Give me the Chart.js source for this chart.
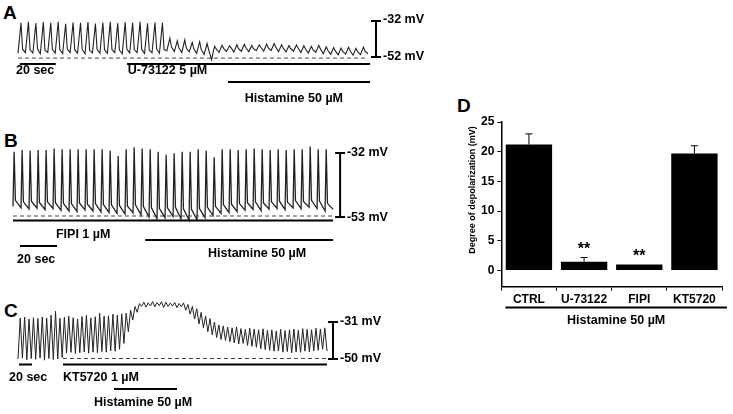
<!DOCTYPE html>
<html>
<head>
<meta charset="utf-8">
<script src="https://cdn.jsdelivr.net/npm/chart.js@4.4.1/dist/chart.umd.min.js"></script>
<style>
  body { margin: 0; background: #fff; width: 733px; height: 414px; position: relative; overflow: hidden; font-family: 'Liberation Sans', Arial, sans-serif; }
  canvas { position: absolute; }
  .letter { position: absolute; font-weight: bold; font-size: 19px; line-height: 19px; color: #000; }
</style>
</head>
<body>
<div class="letter" style="left:3px;top:3px">A</div>
<div class="letter" style="left:4px;top:131px">B</div>
<div class="letter" style="left:4px;top:301px">C</div>
<div class="letter" style="left:457px;top:96px">D</div>

<canvas id="traceA" width="460" height="112" style="left:0;top:0"></canvas>
<canvas id="traceB" width="460" height="165" style="left:0;top:115px"></canvas>
<canvas id="traceC" width="460" height="129" style="left:0;top:285px"></canvas>
<canvas id="barsD" width="293" height="250" style="left:440px;top:90px"></canvas>

<script>
// ---- data (mV), one value per oscillation cycle ----
// A: control spikes, then U-73122 + histamine
const aPeak = [-33, -32.5, -33.2, -32.6, -33, -32.4, -33.5, -32.8, -33, -32.6,
  -33.4, -32.8, -32.5, -33.2, -32.7, -33, -32.5, -33.3, -32.8, -33,
  -41.5, -43, -42.5, -44, -43.5, -44.5,
  -46, -45.5, -45.8, -45.2, -45, -45.6, -45.3, -44.8, -44.5, -45.2,
  -45.6, -45.3, -45.8, -46, -45.5, -46.4, -46.8, -47, -46.6, -47.2, -46.5];
const aKnee = [-47.8, -48, -47.5, -48.2, -47.9, -48, -47.6, -48.1, -47.8, -48.3,
  -47.7, -48, -47.9, -48.2, -47.6, -48, -47.8, -48.1, -47.5, -47.9,
  -46.5, -47, -47.2, -47.5, -48, -48.2,
  -47.5, -47.2, -46.8, -47.4, -46.9, -47.3, -46.6, -46.9, -46.4, -47.1,
  -47.4, -47, -47.6, -47.9, -47.5, -48.3, -48.6, -48.9, -48.5, -49.1, -48.7];
const aBase = [-50, -49.6, -49.8, -50.2, -49.5, -49.8, -50.1, -49.6, -49.9, -50.2,
  -49.7, -49.9, -50, -49.6, -50.2, -49.8, -49.5, -50, -49.7, -49.9,
  -48.5, -49, -49.5, -49.2, -50, -50.5,
  -53.5, -49.5, -49, -49.3, -48.8, -49, -48.5, -48.7, -48.4, -49,
  -49.2, -48.8, -49.5, -49.8, -49.4, -50.2, -50.5, -50.8, -50.4, -51, -50.6, -50.2];
const aSeconds = 194.4;

// B: FIPI, then FIPI + histamine
const bPeak = [-31.6, -31, -31.2, -31, -31, -30.5, -30.8, -30.8, -30.8, -30.8,
  -30.8, -30.8, -31.2, -33, -30.8, -30.1, -30.5, -30.8, -31.6, -32.6,
  -32.1, -31.6, -31.6, -30.8, -31.2, -33.4, -30.8, -30.8, -31, -30.8,
  -30.5, -30.8, -31, -30.8, -31, -30.8, -30.8, -29.9, -30.8, -30.8];
const bKnee = [-47.5, -48, -47.8, -48.2, -48, -48.3, -48.5, -48.6, -48.4, -48.8,
  -48.6, -48.9, -49, -49.2, -49.4, -49, -49.6, -50, -50.2, -50,
  -49.8, -50.3, -50.5, -50.2, -49.8, -49.5, -49, -48.8, -48.6, -48.3,
  -48, -48.4, -48, -47.8, -48.1, -47.6, -47.9, -47.5, -47.8, -48.5];
const bBase = [-49.5, -50, -50.3, -50.1, -50.6, -50.2, -50.8, -51, -51.2, -50.7,
  -51, -51.3, -51.5, -51.8, -52, -51.6, -52.3, -53, -53.5, -53.2,
  -52.8, -53.6, -54, -53.8, -53.2, -52.5, -51.8, -51.5, -51.2, -50.8,
  -50.5, -50.9, -50.4, -50.2, -50.6, -50, -50.3, -49.8, -50.2, -51, -50.5];
const bSeconds = 173;

// C: KT5720, then KT5720 + histamine
const cTop = [-29, -28.5, -29.5, -28.8, -29.2, -28.4, -29, -27.5, -25.5, -29, -28.6,
  -28, -28.8, -29.4, -28.2, -27.6, -28.9, -28.3, -26.5, -28, -27.8, -27, -27.4, -26.8,
  -26.5, -25, -23, -21.5,
  -20.8, -21.2, -20.5, -21, -20.6, -20.9, -21.3, -21, -21.5, -21.2,
  -22, -23, -24.2, -26, -28, -29.3, -31,
  -32.5, -33, -33.6, -34, -33.5, -34.4, -34.8, -34.2,
  -34.6, -35, -34.5, -35.3, -35, -35.6, -34.8, -35.4, -35, -34.6, -35.2, -34.4, -34.8, -35, -34.2, -34.6, -34];
const cBot = [-50, -49.6, -50.4, -49.8, -50.2, -49.5, -50.6, -49.8, -50.3, -50, -49.2,
  -47, -46.6, -47.2, -46.8, -46.4, -47, -46.5, -46.8, -46.2, -46.5, -45.8, -46, -45,
  -42, -36, -30, -26,
  -23, -23.4, -22.8, -23.2, -22.6, -23.5, -23, -22.8, -23.6, -23.2,
  -25, -27, -29.5, -32, -34, -36, -37.5,
  -39, -40, -40.5, -41.2, -41.8, -42.3, -42, -43,
  -43.5, -44, -44.8, -45.2, -45.6, -46, -45.8, -46.5, -46.2, -46.8, -46.4, -46.6, -46, -46.3, -45.8, -45.5, -45, -46];
const cSeconds = 475.4;

// D: degree of depolarization
const groups = ['CTRL', 'U-73122', 'FIPI', 'KT5720'];
const depol = [21.2, 1.5, 1.0, 19.7];
const depolErr = [1.8, 0.7, 0, 1.3];
const stars = ['', '**', '**', ''];

const FONT = '"Liberation Sans", Arial, sans-serif';

// one cycle = base -> peak (-> knee), ends on the next base value
function cyclePoints(base, peak, seconds, peakAt, knee, kneeAt) {
  const step = seconds / peak.length;
  const pts = [];
  peak.forEach((p, i) => {
    pts.push({ x: i * step, y: base[i] });
    pts.push({ x: (i + peakAt) * step, y: p });
    if (knee) pts.push({ x: (i + kneeAt) * step, y: knee[i] });
  });
  pts.push({ x: seconds, y: base[peak.length] });
  return pts;
}

// lines: [t1, v1, t2, v2, width, dashed]; texts: [t, v, label]
function notesPlugin(notes) {
  return {
    id: 'notes',
    afterDatasetsDraw(chart) {
      const ctx = chart.ctx, sx = chart.scales.x, sy = chart.scales.y;
      ctx.save();
      notes.lines.forEach(l => {
        ctx.lineWidth = l[4];
        ctx.setLineDash(l[5] ? [4, 3] : []);
        ctx.strokeStyle = l[5] ? '#444' : '#000';
        ctx.beginPath();
        ctx.moveTo(sx.getPixelForValue(l[0]), sy.getPixelForValue(l[1]));
        ctx.lineTo(sx.getPixelForValue(l[2]), sy.getPixelForValue(l[3]));
        ctx.stroke();
      });
      ctx.setLineDash([]);
      ctx.fillStyle = '#000';
      ctx.font = 'bold 12.5px ' + FONT;
      ctx.textBaseline = 'middle';
      notes.texts.forEach(t => ctx.fillText(t[2], sx.getPixelForValue(t[0]), sy.getPixelForValue(t[1])));
      ctx.restore();
    }
  };
}

function traceChart(id, points, xr, yr, width, notes) {
  return new Chart(document.getElementById(id), {
    type: 'line',
    data: { datasets: [{ data: points, borderColor: '#222', borderWidth: width, pointRadius: 0, tension: 0 }] },
    options: {
      responsive: false,
      animation: false,
      layout: { padding: 0 },
      plugins: { legend: { display: false }, tooltip: { enabled: false } },
      scales: {
        x: { type: 'linear', display: false, min: xr[0], max: xr[1] },
        y: { type: 'linear', display: false, min: yr[0], max: yr[1] }
      }
    },
    plugins: [notesPlugin(notes)]
  });
}

traceChart('traceA', cyclePoints(aBase, aPeak, aSeconds, 0.4, aKnee, 0.62), [-10, 245.56], [-82.56, -20.33], 1.1, {
  lines: [
    [0, -52.6, aSeconds, -52.6, 1, true],
    [1, -55.9, 21, -55.9, 2],
    [60.6, -55.9, 195.6, -55.9, 2],
    [116.7, -65.9, 195.6, -65.9, 2],
    [198.9, -32, 198.9, -52, 2],
    [196.1, -32, 201.7, -32, 2],
    [196.1, -52, 201.7, -52, 2]
  ],
  texts: [
    [-1.1, -59.5, '20 sec'],
    [61, -59.5, 'U-73122 5 µM'],
    [126, -75.05, 'Histamine 50 µM'],
    [202.8, -31.4, '-32 mV'],
    [202.8, -52, '-52 mV']
  ]
});

traceChart('traceB', cyclePoints(bBase, bPeak, bSeconds, 0.14, bKnee, 0.3), [-7.03, 241.6], [-73.64, -19.54], 1.3, {
  lines: [
    [0, -52.66, bSeconds, -52.66, 1, true],
    [0, -54.13, bSeconds, -54.13, 2],
    [3.8, -62.5, 23.8, -62.5, 2],
    [71.4, -60.52, bSeconds, -60.52, 2],
    [176.8, -32, 176.8, -53, 2],
    [174.1, -32, 179.5, -32, 2],
    [174.1, -53, 179.5, -53, 2]
  ],
  texts: [
    [23.2, -58.9, 'FIPI 1 µM'],
    [2.2, -67.08, '20 sec'],
    [105.4, -65.11, 'Histamine 50 µM'],
    [180.5, -32, '-32 mV'],
    [180.5, -53, '-53 mV']
  ]
});

traceChart('traceC', cyclePoints(cBot, cTop, cSeconds, 0.5), [-27.69, 680], [-78.26, -12.0], 1, {
  lines: [
    [69.2, -49.75, cSeconds, -49.75, 1, true],
    [1.5, -52.83, 21.5, -52.83, 2],
    [69.2, -52.83, cSeconds, -52.83, 2],
    [147.7, -65.42, 244.6, -65.42, 2],
    [484.6, -31, 484.6, -50, 2],
    [476.9, -31, 492.3, -31, 2],
    [476.9, -50, 492.3, -50, 2]
  ],
  texts: [
    [-13.8, -59.77, '20 sec'],
    [69.2, -59.77, 'KT5720 1 µM'],
    [116.9, -72.6, 'Histamine 50 µM'],
    [495.4, -31, '-31 mV'],
    [495.4, -50, '-50 mV']
  ]
});

// error bars, asterisks, y title and the histamine bracket under panel D
const barExtras = {
  id: 'barExtras',
  afterDatasetsDraw(chart) {
    const ctx = chart.ctx, sy = chart.scales.y, area = chart.chartArea;
    const bars = chart.getDatasetMeta(0).data;
    ctx.save();
    ctx.strokeStyle = '#000';
    ctx.fillStyle = '#000';
    ctx.lineWidth = 1;
    bars.forEach((bar, i) => {
      const top = sy.getPixelForValue(depol[i] + depolErr[i]);
      if (depolErr[i] > 0) {
        ctx.beginPath();
        ctx.moveTo(bar.x, sy.getPixelForValue(depol[i]));
        ctx.lineTo(bar.x, top);
        ctx.moveTo(bar.x - 3.5, top);
        ctx.lineTo(bar.x + 3.5, top);
        ctx.stroke();
      }
      if (stars[i]) {
        ctx.font = 'bold 16px ' + FONT;
        ctx.textAlign = 'center';
        ctx.textBaseline = 'middle';
        ctx.fillText(stars[i], bar.x, top - 8);
      }
    });
    const y0 = area.bottom + 21;
    ctx.lineWidth = 2;
    ctx.beginPath();
    ctx.moveTo(area.left + 4, y0);
    ctx.lineTo(area.right + 5, y0);
    ctx.stroke();
    ctx.font = 'bold 12.5px ' + FONT;
    ctx.textAlign = 'center';
    ctx.textBaseline = 'middle';
    ctx.fillText('Histamine 50 µM', (area.left + area.right + 9) / 2, y0 + 13);
    // rotated y title
    ctx.translate(area.left - 29, area.top + 68);
    ctx.rotate(-Math.PI / 2);
    ctx.font = 'bold 9px ' + FONT;
    ctx.fillText('Degree of depolarization (mV)', 0, 0);
    ctx.restore();
  }
};

new Chart(document.getElementById('barsD'), {
  type: 'bar',
  data: {
    labels: groups,
    datasets: [{ data: depol, backgroundColor: '#000', barPercentage: 0.84, categoryPercentage: 1 }]
  },
  options: {
    responsive: false,
    animation: false,
    layout: { padding: { left: 38, top: 32, right: 11, bottom: 31 } },
    plugins: { legend: { display: false }, tooltip: { enabled: false } },
    scales: {
      x: {
        border: { color: '#000', width: 1.5 },
        grid: { display: true, drawOnChartArea: false, color: '#000', tickLength: 4, offset: true },
        ticks: { color: '#000', padding: 2, font: { family: FONT, size: 12, weight: 'bold' } }
      },
      y: {
        min: -2.7,
        max: 25,
        border: { color: '#000', width: 1.5 },
        grid: { display: true, drawOnChartArea: false, color: '#000', tickLength: 4 },
        ticks: { stepSize: 5, includeBounds: false, color: '#000', padding: 3, font: { family: FONT, size: 12, weight: 'bold' } }
      }
    }
  },
  plugins: [barExtras]
});
</script>
</body>
</html>
